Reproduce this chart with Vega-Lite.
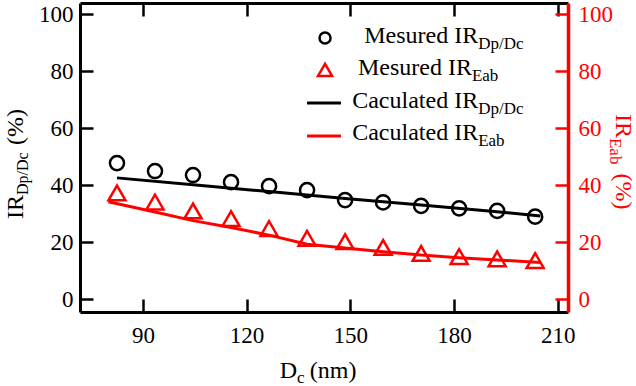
{
  "$schema": "https://vega.github.io/schema/vega-lite/v6.json",
  "width": 488,
  "height": 309,
  "autosize": {"type": "none"},
  "padding": {"left": 80, "top": 3, "right": 68, "bottom": 74},
  "background": "white",
  "config": {"view": {"stroke": null}},
  "datasets": {
    "measured": [
      {"Dc": 82.5, "IR": 47.7, "series": "Dp/Dc"},
      {"Dc": 93.5, "IR": 44.9, "series": "Dp/Dc"},
      {"Dc": 104.5, "IR": 43.5, "series": "Dp/Dc"},
      {"Dc": 115.5, "IR": 41.0, "series": "Dp/Dc"},
      {"Dc": 126.5, "IR": 39.6, "series": "Dp/Dc"},
      {"Dc": 137.5, "IR": 38.2, "series": "Dp/Dc"},
      {"Dc": 148.5, "IR": 34.7, "series": "Dp/Dc"},
      {"Dc": 159.5, "IR": 33.9, "series": "Dp/Dc"},
      {"Dc": 170.5, "IR": 32.7, "series": "Dp/Dc"},
      {"Dc": 181.5, "IR": 31.8, "series": "Dp/Dc"},
      {"Dc": 192.5, "IR": 30.9, "series": "Dp/Dc"},
      {"Dc": 203.5, "IR": 28.9, "series": "Dp/Dc"},
      {"Dc": 82.5, "IR": 37.2, "series": "Eab"},
      {"Dc": 93.5, "IR": 34.0, "series": "Eab"},
      {"Dc": 104.5, "IR": 30.9, "series": "Eab"},
      {"Dc": 115.5, "IR": 28.2, "series": "Eab"},
      {"Dc": 126.5, "IR": 24.7, "series": "Eab"},
      {"Dc": 137.5, "IR": 21.3, "series": "Eab"},
      {"Dc": 148.5, "IR": 20.1, "series": "Eab"},
      {"Dc": 159.5, "IR": 18.1, "series": "Eab"},
      {"Dc": 170.5, "IR": 16.0, "series": "Eab"},
      {"Dc": 181.5, "IR": 14.9, "series": "Eab"},
      {"Dc": 192.5, "IR": 14.1, "series": "Eab"},
      {"Dc": 203.5, "IR": 13.5, "series": "Eab"}
    ],
    "calculated": [
      {"Dc": 82.5, "IR": 42.5, "series": "Dp/Dc"},
      {"Dc": 104.5, "IR": 40.1, "series": "Dp/Dc"},
      {"Dc": 126.5, "IR": 37.7, "series": "Dp/Dc"},
      {"Dc": 148.5, "IR": 35.3, "series": "Dp/Dc"},
      {"Dc": 170.5, "IR": 33.0, "series": "Dp/Dc"},
      {"Dc": 192.5, "IR": 30.6, "series": "Dp/Dc"},
      {"Dc": 205.0, "IR": 29.1, "series": "Dp/Dc"},
      {"Dc": 80.0, "IR": 34.1, "series": "Eab"},
      {"Dc": 93.5, "IR": 30.5, "series": "Eab"},
      {"Dc": 104.5, "IR": 27.5, "series": "Eab"},
      {"Dc": 115.5, "IR": 25.1, "series": "Eab"},
      {"Dc": 126.5, "IR": 22.4, "series": "Eab"},
      {"Dc": 137.5, "IR": 19.2, "series": "Eab"},
      {"Dc": 148.5, "IR": 17.9, "series": "Eab"},
      {"Dc": 159.5, "IR": 16.6, "series": "Eab"},
      {"Dc": 170.5, "IR": 15.4, "series": "Eab"},
      {"Dc": 181.5, "IR": 14.5, "series": "Eab"},
      {"Dc": 192.5, "IR": 13.7, "series": "Eab"},
      {"Dc": 205.0, "IR": 12.8, "series": "Eab"}
    ],
    "text": [
      {"id": "leg1", "t": "Mesured IR"},
      {"id": "leg1s", "t": "Dp/Dc"},
      {"id": "leg2", "t": "Mesured IR"},
      {"id": "leg2s", "t": "Eab"},
      {"id": "leg3", "t": "Caculated IR"},
      {"id": "leg3s", "t": "Dp/Dc"},
      {"id": "leg4", "t": "Caculated IR"},
      {"id": "leg4s", "t": "Eab"},
      {"id": "ly", "t": "IR"},
      {"id": "lys", "t": "Dp/Dc"},
      {"id": "lyp", "t": "(%)"},
      {"id": "ry", "t": "IR"},
      {"id": "rys", "t": "Eab"},
      {"id": "ryp", "t": "(%)"},
      {"id": "bx", "t": "D"},
      {"id": "bxs", "t": "c"},
      {"id": "bxp", "t": "(nm)"}
    ]
  },
  "layer": [
    {
      "data": {"name": "measured"},
      "transform": [{"filter": "datum.series === 'Dp/Dc'"}],
      "mark": {"type": "point", "shape": "circle", "filled": false, "stroke": "black", "strokeWidth": 2.5, "size": 200, "opacity": 1},
      "encoding": {
        "x": {"field": "Dc", "type": "quantitative", "scale": {"domain": [71.8, 213], "nice": false, "zero": false},
          "axis": {"orient": "bottom", "values": [90, 120, 150, 180, 210], "title": null, "grid": false, "domainColor": "black", "domainWidth": 3, "tickColor": "black", "tickWidth": 2.5, "tickSize": -13, "labelFont": "Liberation Serif", "labelFontSize": 23, "labelColor": "black", "labelPadding": 25}},
        "y": {"field": "IR", "type": "quantitative", "scale": {"domain": [-4.56, 103.86], "nice": false, "zero": false},
          "axis": {"orient": "left", "values": [0, 20, 40, 60, 80, 100], "title": null, "grid": false, "domainColor": "black", "domainWidth": 3, "tickColor": "black", "tickWidth": 2.5, "tickSize": -13, "labelFont": "Liberation Serif", "labelFontSize": 23, "labelColor": "black", "labelPadding": 20}}
      }
    },
    {
      "data": {"name": "calculated"},
      "transform": [{"filter": "datum.series === 'Dp/Dc'"}],
      "mark": {"type": "line", "color": "black", "strokeWidth": 3},
      "encoding": {
        "x": {"field": "Dc", "type": "quantitative", "scale": {"domain": [71.8, 213], "nice": false, "zero": false}, "axis": null},
        "y": {"field": "IR", "type": "quantitative", "scale": {"domain": [-4.56, 103.86], "nice": false, "zero": false}, "axis": null}
      }
    },
    {
      "data": {"name": "measured"},
      "transform": [{"filter": "datum.series === 'Eab'"}],
      "mark": {"type": "point", "shape": "triangle-up", "filled": false, "stroke": "red", "strokeWidth": 2.5, "size": 289, "opacity": 1},
      "encoding": {
        "x": {"field": "Dc", "type": "quantitative", "scale": {"domain": [71.8, 213], "nice": false, "zero": false},
          "axis": {"orient": "top", "values": [90, 120, 150, 180, 210], "title": null, "grid": false, "labels": false, "domainColor": "black", "domainWidth": 3, "tickColor": "black", "tickWidth": 2.5, "tickSize": -13}},
        "y": {"field": "IR", "type": "quantitative", "scale": {"domain": [-4.56, 103.86], "nice": false, "zero": false},
          "axis": {"orient": "right", "values": [0, 20, 40, 60, 80, 100], "title": null, "grid": false, "domainColor": "red", "domainWidth": 3.5, "tickColor": "red", "tickWidth": 2.5, "tickSize": -13, "labelFont": "Liberation Serif", "labelFontSize": 23, "labelColor": "red", "labelPadding": 23}}
      }
    },
    {
      "data": {"name": "calculated"},
      "transform": [{"filter": "datum.series === 'Eab'"}],
      "mark": {"type": "line", "color": "red", "strokeWidth": 3},
      "encoding": {
        "x": {"field": "Dc", "type": "quantitative", "scale": {"domain": [71.8, 213], "nice": false, "zero": false}, "axis": null},
        "y": {"field": "IR", "type": "quantitative", "scale": {"domain": [-4.56, 103.86], "nice": false, "zero": false}, "axis": null}
      }
    },
    {
      "data": {"name": "text"},
      "transform": [{"filter": "datum.id === 'leg1'"}],
      "mark": {"type": "point", "shape": "circle", "filled": false, "stroke": "black", "strokeWidth": 2.5, "size": 121, "opacity": 1},
      "encoding": {
        "x": {"datum": 142.7, "type": "quantitative", "scale": {"domain": [71.8, 213], "nice": false, "zero": false}, "axis": null},
        "y": {"datum": 91.6, "type": "quantitative", "scale": {"domain": [-4.56, 103.86], "nice": false, "zero": false}, "axis": null}
      }
    },
    {
      "data": {"name": "text"},
      "transform": [{"filter": "datum.id === 'leg2'"}],
      "mark": {"type": "point", "shape": "triangle-up", "filled": false, "stroke": "red", "strokeWidth": 2.5, "size": 196, "opacity": 1},
      "encoding": {
        "x": {"datum": 142.7, "type": "quantitative", "scale": {"domain": [71.8, 213], "nice": false, "zero": false}, "axis": null},
        "y": {"datum": 80.4, "type": "quantitative", "scale": {"domain": [-4.56, 103.86], "nice": false, "zero": false}, "axis": null}
      }
    },
    {
      "data": {"name": "text"},
      "transform": [{"filter": "datum.id === 'leg3'"}],
      "mark": {"type": "rule", "color": "black", "strokeWidth": 3},
      "encoding": {
        "x": {"datum": 137.5, "type": "quantitative", "scale": {"domain": [71.8, 213], "nice": false, "zero": false}, "axis": null},
        "x2": {"datum": 147.3},
        "y": {"datum": 68.8, "type": "quantitative", "scale": {"domain": [-4.56, 103.86], "nice": false, "zero": false}, "axis": null}
      }
    },
    {
      "data": {"name": "text"},
      "transform": [{"filter": "datum.id === 'leg4'"}],
      "mark": {"type": "rule", "color": "red", "strokeWidth": 3},
      "encoding": {
        "x": {"datum": 137.5, "type": "quantitative", "scale": {"domain": [71.8, 213], "nice": false, "zero": false}, "axis": null},
        "x2": {"datum": 147.3},
        "y": {"datum": 57.2, "type": "quantitative", "scale": {"domain": [-4.56, 103.86], "nice": false, "zero": false}, "axis": null}
      }
    },
    {
      "data": {"name": "text"},
      "transform": [{"filter": "datum.id === 'leg1'"}],
      "mark": {"type": "text", "font": "Liberation Serif", "fontSize": 24, "align": "right", "baseline": "alphabetic", "color": "black"},
      "encoding": {
        "x": {"datum": 187.0, "type": "quantitative", "scale": {"domain": [71.8, 213], "nice": false, "zero": false}, "axis": null},
        "y": {"datum": 89.8, "type": "quantitative", "scale": {"domain": [-4.56, 103.86], "nice": false, "zero": false}, "axis": null},
        "text": {"field": "t"}
      }
    },
    {
      "data": {"name": "text"},
      "transform": [{"filter": "datum.id === 'leg1s'"}],
      "mark": {"type": "text", "font": "Liberation Serif", "fontSize": 17, "align": "left", "baseline": "alphabetic", "color": "black", "dy": 6},
      "encoding": {
        "x": {"datum": 187.0, "type": "quantitative", "scale": {"domain": [71.8, 213], "nice": false, "zero": false}, "axis": null},
        "y": {"datum": 89.8, "type": "quantitative", "scale": {"domain": [-4.56, 103.86], "nice": false, "zero": false}, "axis": null},
        "text": {"field": "t"}
      }
    },
    {
      "data": {"name": "text"},
      "transform": [{"filter": "datum.id === 'leg2'"}],
      "mark": {"type": "text", "font": "Liberation Serif", "fontSize": 24, "align": "right", "baseline": "alphabetic", "color": "black"},
      "encoding": {
        "x": {"datum": 185.2, "type": "quantitative", "scale": {"domain": [71.8, 213], "nice": false, "zero": false}, "axis": null},
        "y": {"datum": 78.6, "type": "quantitative", "scale": {"domain": [-4.56, 103.86], "nice": false, "zero": false}, "axis": null},
        "text": {"field": "t"}
      }
    },
    {
      "data": {"name": "text"},
      "transform": [{"filter": "datum.id === 'leg2s'"}],
      "mark": {"type": "text", "font": "Liberation Serif", "fontSize": 17, "align": "left", "baseline": "alphabetic", "color": "black", "dy": 6},
      "encoding": {
        "x": {"datum": 185.2, "type": "quantitative", "scale": {"domain": [71.8, 213], "nice": false, "zero": false}, "axis": null},
        "y": {"datum": 78.6, "type": "quantitative", "scale": {"domain": [-4.56, 103.86], "nice": false, "zero": false}, "axis": null},
        "text": {"field": "t"}
      }
    },
    {
      "data": {"name": "text"},
      "transform": [{"filter": "datum.id === 'leg3'"}],
      "mark": {"type": "text", "font": "Liberation Serif", "fontSize": 24, "align": "right", "baseline": "alphabetic", "color": "black"},
      "encoding": {
        "x": {"datum": 187.0, "type": "quantitative", "scale": {"domain": [71.8, 213], "nice": false, "zero": false}, "axis": null},
        "y": {"datum": 67.0, "type": "quantitative", "scale": {"domain": [-4.56, 103.86], "nice": false, "zero": false}, "axis": null},
        "text": {"field": "t"}
      }
    },
    {
      "data": {"name": "text"},
      "transform": [{"filter": "datum.id === 'leg3s'"}],
      "mark": {"type": "text", "font": "Liberation Serif", "fontSize": 17, "align": "left", "baseline": "alphabetic", "color": "black", "dy": 6},
      "encoding": {
        "x": {"datum": 187.0, "type": "quantitative", "scale": {"domain": [71.8, 213], "nice": false, "zero": false}, "axis": null},
        "y": {"datum": 67.0, "type": "quantitative", "scale": {"domain": [-4.56, 103.86], "nice": false, "zero": false}, "axis": null},
        "text": {"field": "t"}
      }
    },
    {
      "data": {"name": "text"},
      "transform": [{"filter": "datum.id === 'leg4'"}],
      "mark": {"type": "text", "font": "Liberation Serif", "fontSize": 24, "align": "right", "baseline": "alphabetic", "color": "black"},
      "encoding": {
        "x": {"datum": 187.0, "type": "quantitative", "scale": {"domain": [71.8, 213], "nice": false, "zero": false}, "axis": null},
        "y": {"datum": 55.8, "type": "quantitative", "scale": {"domain": [-4.56, 103.86], "nice": false, "zero": false}, "axis": null},
        "text": {"field": "t"}
      }
    },
    {
      "data": {"name": "text"},
      "transform": [{"filter": "datum.id === 'leg4s'"}],
      "mark": {"type": "text", "font": "Liberation Serif", "fontSize": 17, "align": "left", "baseline": "alphabetic", "color": "black", "dy": 6},
      "encoding": {
        "x": {"datum": 187.0, "type": "quantitative", "scale": {"domain": [71.8, 213], "nice": false, "zero": false}, "axis": null},
        "y": {"datum": 55.8, "type": "quantitative", "scale": {"domain": [-4.56, 103.86], "nice": false, "zero": false}, "axis": null},
        "text": {"field": "t"}
      }
    },
    {
      "data": {"name": "text"},
      "transform": [{"filter": "datum.id === 'ly'"}],
      "mark": {"type": "text", "font": "Liberation Serif", "fontSize": 24, "align": "right", "baseline": "alphabetic", "angle": 270, "color": "black"},
      "encoding": {
        "x": {"datum": 55.3, "type": "quantitative", "scale": {"domain": [71.8, 213], "nice": false, "zero": false}, "axis": null},
        "y": {"datum": 36.5, "type": "quantitative", "scale": {"domain": [-4.56, 103.86], "nice": false, "zero": false}, "axis": null},
        "text": {"field": "t"}
      }
    },
    {
      "data": {"name": "text"},
      "transform": [{"filter": "datum.id === 'lys'"}],
      "mark": {"type": "text", "font": "Liberation Serif", "fontSize": 16, "align": "left", "baseline": "alphabetic", "angle": 270, "color": "black", "dy": 5},
      "encoding": {
        "x": {"datum": 55.3, "type": "quantitative", "scale": {"domain": [71.8, 213], "nice": false, "zero": false}, "axis": null},
        "y": {"datum": 36.5, "type": "quantitative", "scale": {"domain": [-4.56, 103.86], "nice": false, "zero": false}, "axis": null},
        "text": {"field": "t"}
      }
    },
    {
      "data": {"name": "text"},
      "transform": [{"filter": "datum.id === 'lyp'"}],
      "mark": {"type": "text", "font": "Liberation Serif", "fontSize": 24, "align": "left", "baseline": "alphabetic", "angle": 270, "color": "black"},
      "encoding": {
        "x": {"datum": 55.3, "type": "quantitative", "scale": {"domain": [71.8, 213], "nice": false, "zero": false}, "axis": null},
        "y": {"datum": 54.0, "type": "quantitative", "scale": {"domain": [-4.56, 103.86], "nice": false, "zero": false}, "axis": null},
        "text": {"field": "t"}
      }
    },
    {
      "data": {"name": "text"},
      "transform": [{"filter": "datum.id === 'ry'"}],
      "mark": {"type": "text", "font": "Liberation Serif", "fontSize": 24, "align": "right", "baseline": "alphabetic", "angle": 90, "color": "red"},
      "encoding": {
        "x": {"datum": 227.0, "type": "quantitative", "scale": {"domain": [71.8, 213], "nice": false, "zero": false}, "axis": null},
        "y": {"datum": 56.5, "type": "quantitative", "scale": {"domain": [-4.56, 103.86], "nice": false, "zero": false}, "axis": null},
        "text": {"field": "t"}
      }
    },
    {
      "data": {"name": "text"},
      "transform": [{"filter": "datum.id === 'rys'"}],
      "mark": {"type": "text", "font": "Liberation Serif", "fontSize": 17, "align": "left", "baseline": "alphabetic", "angle": 90, "color": "red", "dy": 6},
      "encoding": {
        "x": {"datum": 227.0, "type": "quantitative", "scale": {"domain": [71.8, 213], "nice": false, "zero": false}, "axis": null},
        "y": {"datum": 56.5, "type": "quantitative", "scale": {"domain": [-4.56, 103.86], "nice": false, "zero": false}, "axis": null},
        "text": {"field": "t"}
      }
    },
    {
      "data": {"name": "text"},
      "transform": [{"filter": "datum.id === 'ryp'"}],
      "mark": {"type": "text", "font": "Liberation Serif", "fontSize": 24, "align": "left", "baseline": "alphabetic", "angle": 90, "color": "red"},
      "encoding": {
        "x": {"datum": 227.0, "type": "quantitative", "scale": {"domain": [71.8, 213], "nice": false, "zero": false}, "axis": null},
        "y": {"datum": 44.0, "type": "quantitative", "scale": {"domain": [-4.56, 103.86], "nice": false, "zero": false}, "axis": null},
        "text": {"field": "t"}
      }
    },
    {
      "data": {"name": "text"},
      "transform": [{"filter": "datum.id === 'bx'"}],
      "mark": {"type": "text", "font": "Liberation Serif", "fontSize": 24, "align": "right", "baseline": "alphabetic", "color": "black"},
      "encoding": {
        "x": {"datum": 134.6, "type": "quantitative", "scale": {"domain": [71.8, 213], "nice": false, "zero": false}, "axis": null},
        "y": {"datum": -27.7, "type": "quantitative", "scale": {"domain": [-4.56, 103.86], "nice": false, "zero": false}, "axis": null},
        "text": {"field": "t"}
      }
    },
    {
      "data": {"name": "text"},
      "transform": [{"filter": "datum.id === 'bxs'"}],
      "mark": {"type": "text", "font": "Liberation Serif", "fontSize": 17, "align": "left", "baseline": "alphabetic", "color": "black", "dy": 5},
      "encoding": {
        "x": {"datum": 134.6, "type": "quantitative", "scale": {"domain": [71.8, 213], "nice": false, "zero": false}, "axis": null},
        "y": {"datum": -27.7, "type": "quantitative", "scale": {"domain": [-4.56, 103.86], "nice": false, "zero": false}, "axis": null},
        "text": {"field": "t"}
      }
    },
    {
      "data": {"name": "text"},
      "transform": [{"filter": "datum.id === 'bxp'"}],
      "mark": {"type": "text", "font": "Liberation Serif", "fontSize": 24, "align": "left", "baseline": "alphabetic", "color": "black"},
      "encoding": {
        "x": {"datum": 138.3, "type": "quantitative", "scale": {"domain": [71.8, 213], "nice": false, "zero": false}, "axis": null},
        "y": {"datum": -27.7, "type": "quantitative", "scale": {"domain": [-4.56, 103.86], "nice": false, "zero": false}, "axis": null},
        "text": {"field": "t"}
      }
    }
  ],
  "resolve": {"scale": {"y": "independent"}, "axis": {"x": "independent"}}
}
